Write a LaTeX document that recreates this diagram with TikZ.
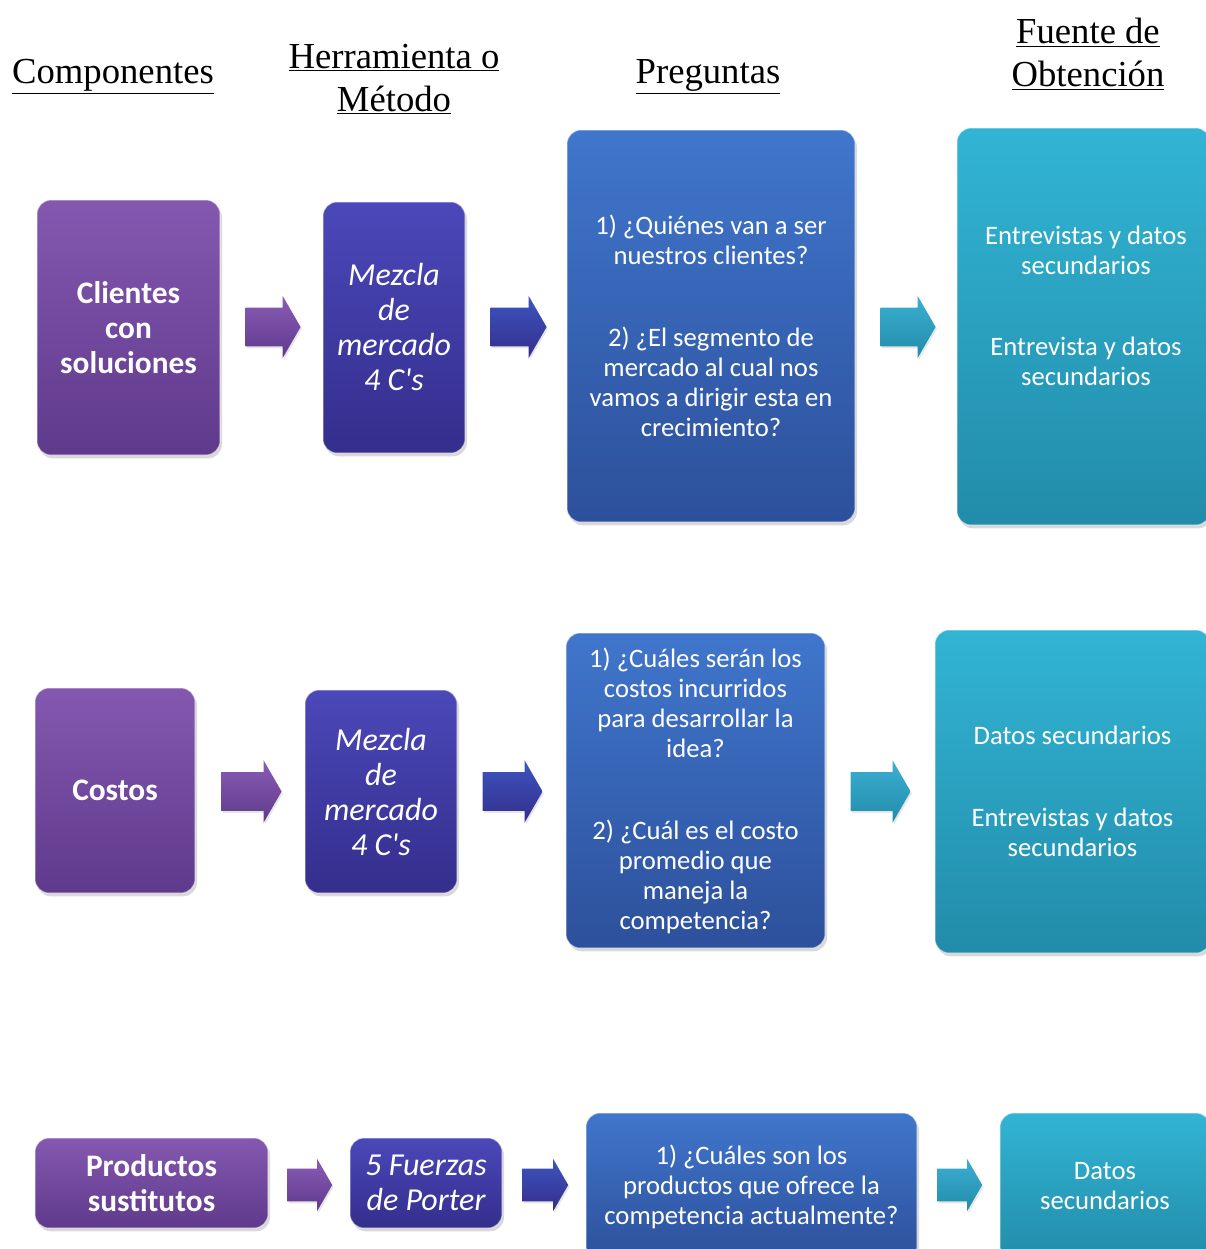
\documentclass[tikz,border=0pt]{standalone}
\usepackage{fontspec}
\setmainfont{Liberation Serif}
\newfontfamily\cajafont{Carlito}
\usetikzlibrary{shapes.arrows,shadows}

\newlength{\du}
\setlength{\du}{0.75pt}

\definecolor{compTop}{rgb}{0.520000, 0.345000, 0.690000}
\definecolor{compBot}{rgb}{0.370000, 0.227000, 0.550000}
\definecolor{toolTop}{rgb}{0.294000, 0.282000, 0.725000}
\definecolor{toolBot}{rgb}{0.204000, 0.180000, 0.550000}
\definecolor{askTop}{rgb}{0.250000, 0.463000, 0.800000}
\definecolor{askBot}{rgb}{0.176000, 0.314000, 0.608000}
\definecolor{srcTop}{rgb}{0.196000, 0.706000, 0.831000}
\definecolor{srcBot}{rgb}{0.133000, 0.549000, 0.667000}
\definecolor{flechaA}{rgb}{0.540000, 0.360000, 0.710000}
\definecolor{flechaB}{rgb}{0.235000, 0.333000, 0.745000}
\definecolor{flechaC}{rgb}{0.235000, 0.686000, 0.824000}

\tikzset{
  caja/.style={rectangle, rounded corners=14\du, inner sep=0pt,
    draw=white, draw opacity=0.45, line width=0.8pt, text=white, align=center,
    drop shadow={shadow xshift=1.5pt, shadow yshift=-2.5pt, opacity=0.3}},
  compbox/.style={caja, top color=compTop, bottom color=compBot,
    font=\cajafont\bfseries\fontsize{23.5}{26.25}\selectfont},
  toolbox/.style={caja, top color=toolTop, bottom color=toolBot,
    font=\cajafont\itshape\fontsize{24}{26.25}\selectfont},
  askbox/.style={caja, top color=askTop, bottom color=askBot,
    font=\cajafont\fontsize{20}{22.5}\selectfont},
  srcbox/.style={caja, top color=srcTop, bottom color=srcBot,
    font=\cajafont\fontsize{20}{22.5}\selectfont},
  srctext/.style={text=white, align=center, inner sep=0pt,
    font=\cajafont\fontsize{20}{22.5}\selectfont},
  flecha/.style={single arrow, single arrow tip angle=120, inner xsep=0pt,
    inner ysep=19\du, single arrow head extend=12\du, draw=none,
    drop shadow={shadow xshift=1pt, shadow yshift=-1.5pt, opacity=0.2}},
  flechita/.style={flecha, inner ysep=16\du, single arrow head extend=10\du},
  titulo/.style={align=center, font=\fontsize{27.5}{32.25}\selectfont}
}

\begin{document}
\begin{tikzpicture}[yscale=-1]
\useasboundingbox (0,0) rectangle (1206\du,1249\du);

% titles
\node[titulo] (h1) at (113\du,77\du) {\underline{Componentes}};
\node[titulo] (h2) at (394\du,79\du) {\underline{Herramienta o}\\\underline{Método}};
\node[titulo] (h3) at (708\du,77\du) {\underline{Preguntas}};
\node[titulo] (h4) at (1088\du,54\du) {\underline{Fuente de}\\\underline{Obtención}};

% clientes
\node[compbox, minimum width=183\du, minimum height=255\du] (c1) at (128.5\du,327.5\du) {Clientes\\con\\soluciones};
\node[flecha, top color=flechaA, bottom color=compBot, minimum height=55\du] (a1) at (267.5\du,327\du) {};
\node[toolbox, minimum width=142\du, minimum height=251\du] (t1) at (394\du,327.5\du) {Mezcla\\de\\mercado\\4 C's};
\node[flecha, top color=flechaB, bottom color=toolBot, minimum height=56\du] (a2) at (513\du,327\du) {};
\node[askbox, minimum width=288\du, minimum height=392\du] (q1) at (711\du,326\du) {1) ¿Quiénes van a ser\\nuestros clientes?\\[39pt]2) ¿El segmento de\\mercado al cual nos\\vamos a dirigir esta en\\crecimiento?};
\node[flecha, top color=flechaC, bottom color=srcBot, minimum height=55\du] (a3) at (902.5\du,327\du) {};
\node[srcbox, minimum width=253\du, minimum height=397\du] (f1) at (1083.5\du,326.5\du) {};
\node[srctext] (f1txt) at (1086\du,306\du) {Entrevistas y datos\\secundarios\\[38pt]Entrevista y datos\\secundarios};

% costos
\node[compbox, minimum width=160\du, minimum height=205\du] (c2) at (115\du,790.5\du) {Costos};
\node[flecha, top color=flechaA, bottom color=compBot, minimum height=60\du] (a4) at (246\du,791.5\du) {};
\node[toolbox, minimum width=152\du, minimum height=203\du] (t2) at (381\du,791.5\du) {Mezcla\\de\\mercado\\4 C's};
\node[flecha, top color=flechaB, bottom color=toolBot, minimum height=60\du] (a5) at (507\du,791.5\du) {};
\node[askbox, minimum width=259\du, minimum height=315\du] (q2) at (695.5\du,790.5\du) {1) ¿Cuáles serán los\\costos incurridos\\para desarrollar la\\idea?\\[39pt]2) ¿Cuál es el costo\\promedio que\\maneja la\\competencia?};
\node[flecha, top color=flechaC, bottom color=srcBot, minimum height=60\du] (a6) at (875\du,791.5\du) {};
\node[srcbox, minimum width=275\du, minimum height=323\du] (f2) at (1072.5\du,791.5\du) {Datos secundarios\\[39pt]Entrevistas y datos\\secundarios};

% productos sustitutos
\node[compbox, minimum width=233\du, minimum height=90\du] (c3) at (151.5\du,1183\du) {Productos\\sustitutos};
\node[flechita, top color=flechaA, bottom color=compBot, minimum height=45\du] (a7) at (305\du,1185\du) {};
\node[toolbox, minimum width=152\du, minimum height=90\du] (t3) at (426\du,1183\du) {5 Fuerzas\\de Porter};
\node[flechita, top color=flechaB, bottom color=toolBot, minimum height=46\du] (a8) at (540.5\du,1185\du) {};
\node[askbox, minimum width=331\du, minimum height=147\du] (q3) at (751.5\du,1186.5\du) {1) ¿Cuáles son los\\productos que ofrece la\\competencia actualmente?};
\node[flechita, top color=flechaC, bottom color=srcBot, minimum height=45\du] (a9) at (955\du,1185\du) {};
\node[srcbox, minimum width=210\du, minimum height=147\du] (f3) at (1105\du,1186.5\du) {Datos\\secundarios};
\end{tikzpicture}
\end{document}
